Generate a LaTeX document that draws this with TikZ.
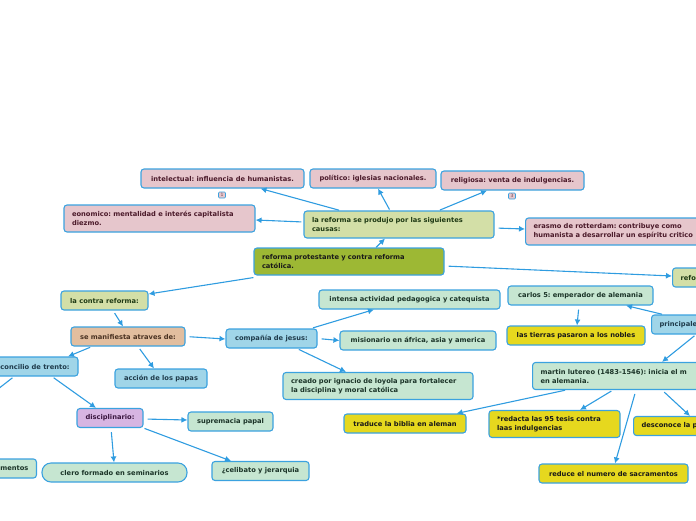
\documentclass[tikz,border=0pt]{standalone}
\usepackage{fontspec}
\setmainfont{DejaVu Sans}
\frenchspacing
\usepackage{xcolor}
\usepackage{tikz}
\usetikzlibrary{arrows.meta}
\definecolor{borde}{HTML}{3BA2DF}
\definecolor{flecha}{HTML}{2F9CE0}
\definecolor{rosa}{HTML}{E6C6CC}
\definecolor{rosatxt}{HTML}{4B1A2A}
\definecolor{oliva}{HTML}{D3DFA7}
\definecolor{olivatxt}{HTML}{1F3A14}
\definecolor{principal}{HTML}{9DB834}
\definecolor{menta}{HTML}{C6E6D1}
\definecolor{mentatxt}{HTML}{1B3428}
\definecolor{celeste}{HTML}{A0D5E8}
\definecolor{celestetxt}{HTML}{1F3B4B}
\definecolor{amarillo}{HTML}{E6D81E}
\definecolor{cafe}{HTML}{E2BE9F}
\definecolor{cafetxt}{HTML}{4A3222}
\definecolor{lila}{HTML}{D7B5E2}
\definecolor{lilatxt}{HTML}{3B1740}
\tikzset{
  Caja/.style={draw=borde, line width=1.1pt, rounded corners=3pt, minimum height=19pt,
    inner xsep=8pt, inner ysep=2pt, font=\fontsize{6.7}{9}\selectfont\bfseries}, % alle Kaesten
  Rosa/.style={Caja, fill=rosa, text=rosatxt},
  Oliva/.style={Caja, fill=oliva, text=olivatxt},
  Menta/.style={Caja, fill=menta, text=mentatxt},
  Celeste/.style={Caja, fill=celeste, text=celestetxt},
  Amarillo/.style={Caja, fill=amarillo, text=black!90},
  Doble/.style={text width=#1, align=left, minimum height=27pt}, % zweizeilig
  Rand/.style={text width=#1, align=left}, % am Bildrand abgeschnitten
  Flecha/.style={draw=flecha, line width=1.1pt, shorten <=#1, ->}, % fuer Pfeile
  Marca/.style={draw=borde, fill=rosa, text=rosatxt!80, rounded corners=1pt, line width=.6pt,
    inner sep=.5pt, minimum width=7pt, minimum height=6pt, font=\fontsize{4.5}{5}\selectfont}
}
\begin{document}
\begin{tikzpicture}[x=1pt, y=-1pt,
>={Latex[length=6pt,width=6pt]} % Voreinstellung fuer Pfeilspitzen
]
\useasboundingbox (0,0) rectangle (696,520);
\clip (0,0) rectangle (696,520);

%Ursachen
\node[Rosa, minimum width=163pt] (intelectual) at (222.5,178.5) {intelectual: influencia de humanistas.};
\node[Marca] (marca1) at (222,195) {1};
\node[Rosa, minimum width=126pt] (politico) at (373,178.5) {político: iglesias nacionales.};
\node[Rosa, minimum width=143pt] (religiosa) at (512.5,180.5) {religiosa: venta de indulgencias.};
\node[Marca] (marca3) at (512,196) {3};
\node[Rosa, Doble=175pt] (economico) at (159.5,218.5) {eonomico: mentalidad e interés capitalista\\diezmo.};
\node[Oliva, Doble=174pt] (causas) at (399,224.5) {la reforma se produjo por las siguientes\\causas:};
\node[Rosa, Doble=200pt, anchor=west] (erasmo) at (525,231.5) {erasmo de rotterdam: contribuye como\\humanista a desarrollar un espíritu critico};

%Hauptknoten
\node[Caja, fill=principal, text=black!90, Doble=174pt] (reforma) at (349,261.5) {reforma protestante y contra reforma\\católica.};
\node[Oliva, Rand=80pt, anchor=west] (refo) at (672,277.5) {refo};

%Gegenreformation
\node[Oliva, minimum width=87pt] (contra) at (104.5,300.5) {la contra reforma:};
\node[Caja, fill=cafe, text=cafetxt, minimum width=114pt] (manifiesta) at (128,336.5) {se manifiesta atraves de:};
\node[Celeste, minimum width=86pt] (concilio) at (35,366.5) {concilio de trento:};
\coordinate (fuera) at (-16,400);
\node[Celeste, minimum width=92pt] (accion) at (161,378.5) {acción de los papas};
\node[Caja, fill=lila, text=lilatxt, minimum width=66pt] (disciplinario) at (110,418) {disciplinario:};
\node[Menta, minimum width=85pt] (supremacia) at (230.5,421.5) {supremacia papal};
\node[Menta, minimum width=145pt, rounded corners=9pt] (clero) at (114.5,472.5) {clero formado en seminarios};
\node[Menta, minimum width=97pt] (celibato) at (260.5,471) {¿celibato y jerarquia};
\node[Menta, anchor=east] (mentos) at (37,468.5) {mentos};
\node[Celeste, minimum width=91pt] (compania) at (271.5,338.5) {compañía de jesus:};
\node[Menta, minimum width=181pt] (intensa) at (409.5,299.5) {intensa actividad pedagogica y catequista};
\node[Menta, minimum width=156pt] (misionario) at (418,340.5) {misionario en áfrica, asia y america};
\node[Menta, Doble=174pt] (creado) at (378,386) {creado por ignacio de loyola para fortalecer\\la disciplina y moral católica};

%Reformation
\node[Menta, minimum width=145pt] (carlos) at (580.5,295.5) {carlos 5: emperador de alemania};
\node[Amarillo, minimum width=138pt] (tierras) at (576,335.5) {las tierras pasaron a los nobles};
\node[Celeste, Rand=80pt, anchor=west] (principales) at (651,324.5) {principale};
\node[Menta, Doble=240pt, anchor=west] (martin) at (532,376) {martin lutereo (1483-1546): inicia el m\\en alemania.};
\node[Amarillo, minimum width=122pt] (traduce) at (405,423.5) {traduce la biblia en aleman};
\node[Amarillo, Doble=115pt] (redacta) at (554.5,424) {*redacta las 95 tesis contra\\laas indulgencias};
\node[Amarillo, Rand=80pt, anchor=west] (desconoce) at (633,426) {desconoce la p};
\node[Amarillo, minimum width=149pt] (reduce) at (613.5,473.5) {reduce el numero de sacramentos};

%Pfeile
\draw[Flecha=1pt] ([xshift=-59pt]causas.north) -- ([xshift=38pt]intelectual.south);
\draw[Flecha=1pt] ([xshift=-9pt]causas.north) -- ([xshift=5pt]politico.south);
\draw[Flecha=1pt] ([xshift=40pt]causas.north) -- ([xshift=-25.5pt]religiosa.south);
\draw[Flecha=2pt] ([yshift=2.5pt]causas.west) -- ([yshift=-1.5pt]economico.east);
\draw[Flecha=4pt] ([yshift=-3.5pt]causas.east) -- ([yshift=2.5pt]erasmo.west);
\draw[Flecha=0pt] ([xshift=27pt]reforma.north) -- ([xshift=-14pt]causas.south);
\draw[Flecha=4pt] ([yshift=-4.5pt]reforma.east) -- ([yshift=1.5pt]refo.west);
\draw[Flecha=0pt] ([yshift=-2pt]reforma.south west) -- ([yshift=6.5pt]contra.east);
\draw[Flecha=3pt] ([xshift=8.5pt]contra.south) -- ([xshift=-5pt]manifiesta.north);
\draw[Flecha=4pt] (manifiesta.east) -- ([yshift=-.5pt]compania.west);
\draw[Flecha=2pt] ([xshift=-36pt]manifiesta.south) -- ([xshift=33pt]concilio.north);
\draw[Flecha=3pt] ([xshift=10pt]manifiesta.south) -- ([xshift=-7pt]accion.north);
\draw[Flecha=2pt] ([xshift=17pt]concilio.south) -- ([xshift=-14pt]disciplinario.north);
\draw[Flecha=2pt] ([xshift=-21pt]concilio.south) -- (fuera);
\draw[Flecha=4pt] ([yshift=-1pt]disciplinario.east) -- ([yshift=1.5pt]supremacia.west);
\draw[Flecha=4pt] ([xshift=1pt]disciplinario.south) -- ([xshift=-.5pt]clero.north);
\draw[Flecha=1pt] (disciplinario.south east) -- ([xshift=-29.5pt]celibato.north);
\draw[Flecha=2pt] ([xshift=39.5pt]compania.north) -- ([xshift=-35.5pt]intensa.south);
\draw[Flecha=4pt] (compania.east) -- (misionario.west);
\draw[Flecha=2pt] ([xshift=25.5pt]compania.south) -- ([xshift=-32pt]creado.north);
\draw[Flecha=1pt] ([xshift=12pt]principales.north west) -- ([xshift=45.5pt]carlos.south);
\draw[Flecha=4pt] ([xshift=-1.5pt]carlos.south) -- ([xshift=1pt]tierras.north);
\draw[Flecha=2pt] ([xshift=45pt]principales.south west) -- ([xshift=130pt]martin.north west);
\draw[Flecha=1pt] ([xshift=34pt]martin.south west) -- ([xshift=-10pt]traduce.north east);
\draw[Flecha=2pt] ([xshift=81pt]martin.south west) -- ([xshift=25.5pt]redacta.north);
\draw[Flecha=4pt] ([xshift=104pt]martin.south west) -- ([xshift=1.5pt]reduce.north);
\draw[Flecha=3pt] ([xshift=130pt]martin.south west) -- ([xshift=57pt]desconoce.north west);

\end{tikzpicture}
\end{document}
